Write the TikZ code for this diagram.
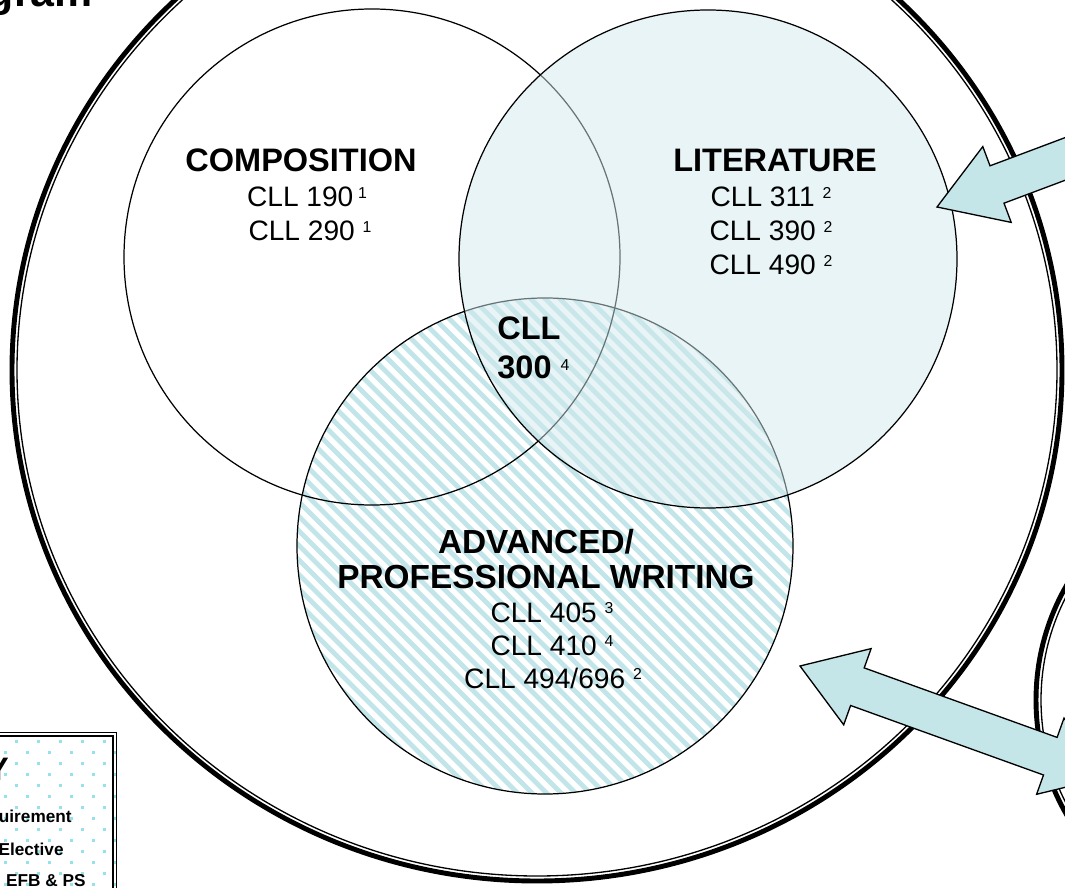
\documentclass[tikz,border=0pt]{standalone}
\usepackage{fontspec}
\setmainfont{Liberation Sans}

\definecolor{litblue}{RGB}{209,233,237}
\definecolor{stripeblue}{RGB}{193,229,232}
\definecolor{arrowblue}{RGB}{196,230,233}
\definecolor{keydot}{RGB}{150,226,234}

\newcommand{\sref}[1]{\raisebox{5pt}{\mdseries\fontsize{9}{10}\selectfont #1}}

\tikzset{
    ring/.style={line width=2.8pt},
    ringin/.style={line width=0.75pt},
    venn/.style={line width=0.7pt},
    hdr/.style={font=\fontsize{18.5}{22}\selectfont\bfseries, anchor=base, inner sep=0pt},
    bighdr/.style={hdr, font=\fontsize{19}{22}\selectfont\bfseries},
    crs/.style={font=\fontsize{16}{19}\selectfont, anchor=base, inner sep=0pt},
    keytxt/.style={font=\fontsize{9.8}{12}\selectfont\bfseries, anchor=base east, inner sep=0pt},
    blockarrow/.style={fill=arrowblue, draw=black, line width=0.75pt, line join=miter}
}

\begin{document}
\begin{tikzpicture}[x=0.02cm, y=-0.02cm]
        \useasboundingbox (0,0) rectangle (1065,888);
        \clip (0,0) rectangle (1065,888);

        % Centres
        \coordinate (prog) at (537,370);
        \coordinate (other) at (1266,700);
        \coordinate (comp) at (372,257);
        \coordinate (lit) at (708,259);
        \coordinate (adv) at (545,546);

        % Outer rings
        \draw[ring] (prog) ellipse [x radius=525, y radius=511];
        \draw[ringin] (prog) ellipse [x radius=520, y radius=506];
        \draw[ring] (other) circle [radius=230];
        \draw[ringin] (other) circle [radius=225];

        % Advanced / professional writing
        \begin{scope}
            \clip (adv) circle [radius=248];
            \foreach \k in {-26,...,26}
                \draw[stripeblue, line width=2.8pt] ({14.5*\k+280},280) -- ({14.5*\k+820},820);
        \end{scope}
        \draw[venn] (adv) circle [radius=248];

        % Composition
        \draw[venn] (comp) circle [radius=248];

        % Literature
        \fill[litblue, fill opacity=0.5] (lit) circle [radius=249];
        \draw[venn] (lit) circle [radius=249];

        % Labels
        \node[hdr] (comphead) at (301,172) {COMPOSITION};
        \node[crs] (comp1) at (307,207) {CLL 190\,\sref{1}};
        \node[crs] (comp2) at (310,241) {CLL 290 \sref{1}};

        \node[hdr] (lithead) at (775,172) {LITERATURE};
        \node[crs] (lit1) at (771,207) {CLL 311 \sref{2}};
        \node[crs] (lit2) at (771,241) {CLL 390 \sref{2}};
        \node[crs] (lit3) at (771,275) {CLL 490 \sref{2}};

        \node[hdr, anchor=base west] (core1) at (497,340) {CLL};
        \node[hdr, anchor=base west] (core2) at (497,379) {300 \sref{4}};

        \node[bighdr] (advhead1) at (536,553) {ADVANCED/};
        \node[bighdr] (advhead2) at (546,588) {PROFESSIONAL WRITING};
        \node[crs] (adv1) at (552,622) {CLL 405 \sref{3}};
        \node[crs] (adv2) at (552,655) {CLL 410 \sref{4}};
        \node[crs] (adv3) at (553,688) {CLL 494/696 \sref{2}};

        % Arrows
        \draw[blockarrow] (937,207) -- (982.8,146.6) -- (990,165.8) -- (1158.5,102.6)
            -- (1172.5,140) -- (1004,203.2) -- (1011.2,222.4) -- cycle;
        \draw[blockarrow] (800,666) -- (871.1,648.6) -- (864.2,667.9) -- (1057.1,737.4)
            -- (1064,718.1) -- (1107.7,776.9) -- (1036.6,794.3) -- (1043.5,775)
            -- (850.6,705.5) -- (843.7,724.8) -- cycle;

        % Key
        \begin{scope}
            \clip (-20,732) rectangle (117,900);
            \foreach \r in {0,...,14}
                \foreach \c in {0,...,5}
                    \fill[keydot] ({15+22*\c-11*mod(\r,2)},{740+11*\r}) rectangle ++(3,3);
        \end{scope}
        \draw[line width=1.1pt] (-20,732.5) -| (116.5,900);
        \draw[line width=0.6pt] (-20,736) -| (113,900);
        \node[hdr] (keyhead) at (-2,780) {Y};
        \node[keytxt] (keyreq) at (72,822) {uirement};
        \node[keytxt] (keyelec) at (64,855) {Elective};
        \node[keytxt] (keyefb) at (86,886) {EFB \& PS};

        % Title
        \node[font=\fontsize{24.4}{28}\selectfont\bfseries, anchor=base east, inner sep=0pt] (title) at (93,7) {gram};
\end{tikzpicture}
\end{document}
